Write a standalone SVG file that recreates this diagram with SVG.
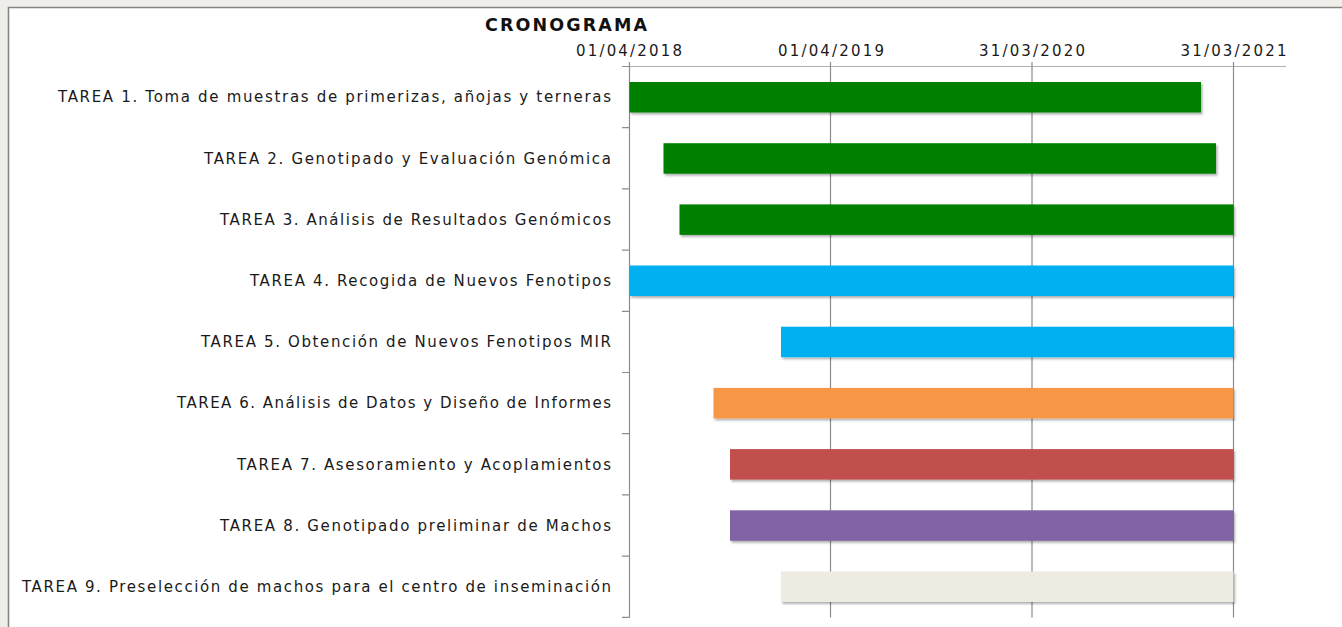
<svg xmlns="http://www.w3.org/2000/svg" width="1342" height="627" viewBox="0 0 1342 627">
<defs>
<filter id="sh" x="-5%" y="-20%" width="110%" height="160%">
<feDropShadow dx="1.5" dy="2" stdDeviation="1" flood-color="#000" flood-opacity="0.3"/>
</filter>
</defs>
<style>
.lbl{font-family:"DejaVu Sans","Liberation Sans",sans-serif;font-size:15px;fill:#1a1a1a;text-anchor:end}
.dt{font-family:"DejaVu Sans","Liberation Sans",sans-serif;font-size:15px;fill:#1a1a1a;text-anchor:middle}
.ttl{font-family:"DejaVu Sans","Liberation Sans",sans-serif;font-size:17.5px;font-weight:bold;fill:#111;text-anchor:middle}
.grid{stroke:#8c8c8c;stroke-width:1.2;fill:none}
.hline{stroke:#b0b0b0;stroke-width:1.2}
.bar{filter:url(#sh)}
</style>
<rect x="0" y="0" width="1342" height="627" fill="#efeeea"/>
<rect x="8" y="7" width="1340" height="630" fill="#ffffff"/>
<path d="M8.5 637 V7.5 H1342" stroke="#858585" stroke-width="1.6" fill="none"/>
<text class="ttl" x="566" y="30.5" textLength="162" lengthAdjust="spacing">CRONOGRAMA</text>
<g id="axis">
<text class="dt" x="629" y="55.5" textLength="106" lengthAdjust="spacing">01/04/2018</text>
<text class="dt" x="831" y="55.5" textLength="106" lengthAdjust="spacing">01/04/2019</text>
<text class="dt" x="1032" y="55.5" textLength="106" lengthAdjust="spacing">31/03/2020</text>
<text class="dt" x="1233.5" y="55.5" textLength="106" lengthAdjust="spacing">31/03/2021</text>
<line class="hline" x1="629" y1="66.5" x2="1286" y2="66.5"/>
<path class="grid" d="M629.5 62 V617.5 M830.5 62 V617.5 M1032 62 V617.5 M1233.5 62 V617.5"/>
<path class="grid" d="M622 66.5 H629.5 M622 127.7 H629.5 M622 188.9 H629.5 M622 250.1 H629.5 M622 311.3 H629.5 M622 372.5 H629.5 M622 433.7 H629.5 M622 494.9 H629.5 M622 556.1 H629.5 M622 617.3 H629.5"/>
</g>
<g id="tarea1"><rect class="bar" x="629.5" y="82" width="571.5" height="30.5" fill="#008000"/><text class="lbl" x="611" y="102.3" textLength="553" lengthAdjust="spacing">TAREA 1. Toma de muestras de primerizas, añojas y terneras</text></g>
<g id="tarea2"><rect class="bar" x="663.5" y="143.2" width="552.5" height="30.5" fill="#008000"/><text class="lbl" x="611" y="163.5" textLength="407" lengthAdjust="spacing">TAREA 2. Genotipado y Evaluación Genómica</text></g>
<g id="tarea3"><rect class="bar" x="679.5" y="204.4" width="554" height="30.5" fill="#008000"/><text class="lbl" x="611" y="224.7" textLength="391" lengthAdjust="spacing">TAREA 3. Análisis de Resultados Genómicos</text></g>
<g id="tarea4"><rect class="bar" x="629.5" y="265.5" width="604" height="30.5" fill="#00b0f0"/><text class="lbl" x="611" y="285.9" textLength="361" lengthAdjust="spacing">TAREA 4. Recogida de Nuevos Fenotipos</text></g>
<g id="tarea5"><rect class="bar" x="781" y="326.7" width="452.5" height="30.5" fill="#00b0f0"/><text class="lbl" x="611" y="347.1" textLength="410" lengthAdjust="spacing">TAREA 5. Obtención de Nuevos Fenotipos MIR</text></g>
<g id="tarea6"><rect class="bar" x="713.5" y="387.9" width="520" height="30.5" fill="#f79646"/><text class="lbl" x="611" y="408.3" textLength="434" lengthAdjust="spacing">TAREA 6. Análisis de Datos y Diseño de Informes</text></g>
<g id="tarea7"><rect class="bar" x="730" y="449.1" width="503.5" height="30.5" fill="#c0504d"/><text class="lbl" x="611" y="469.5" textLength="374" lengthAdjust="spacing">TAREA 7. Asesoramiento y Acoplamientos</text></g>
<g id="tarea8"><rect class="bar" x="730" y="510.3" width="503.5" height="30.5" fill="#8064a2"/><text class="lbl" x="611" y="530.7" textLength="391" lengthAdjust="spacing">TAREA 8. Genotipado preliminar de Machos</text></g>
<g id="tarea9"><rect class="bar" x="781" y="571.5" width="452.5" height="30.5" fill="#eeece1"/><text class="lbl" x="611" y="591.9" textLength="589" lengthAdjust="spacing">TAREA 9. Preselección de machos para el centro de inseminación</text></g>
</svg>
